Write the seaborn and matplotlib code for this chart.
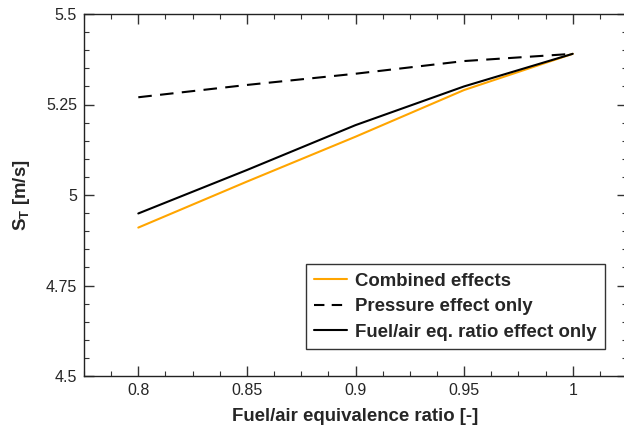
import matplotlib
matplotlib.use("Agg")
import matplotlib.pyplot as plt
import seaborn as sns
import pandas as pd
from matplotlib.ticker import MultipleLocator, FixedLocator, FixedFormatter
from matplotlib.lines import Line2D

phi = [0.8, 0.85, 0.9, 0.95, 1.0]
combined = [4.91, 5.037, 5.161, 5.29, 5.39]
pressure = [5.27, 5.304, 5.335, 5.37, 5.39]
fuelair = [4.949, 5.069, 5.193, 5.30, 5.39]
labels = ["Combined effects", "Pressure effect only", "Fuel/air eq. ratio effect only"]
xticks = [0.8, 0.85, 0.9, 0.95, 1.0]
xticklabels = ["0.8", "0.85", "0.9", "0.95", "1"]
yticks = [4.5, 4.75, 5.0, 5.25, 5.5]
yticklabels = ["4.5", "4.75", "5", "5.25", "5.5"]

sns.set_style("ticks")
plt.rcParams['font.family'] = ['Liberation Sans', 'DejaVu Sans']
plt.rcParams['mathtext.fontset'] = 'custom'
plt.rcParams['mathtext.bf'] = 'Liberation Sans:bold'
plt.rcParams['mathtext.rm'] = 'Liberation Sans'

df = pd.DataFrame({"phi": phi * 3,
                   "val": combined + pressure + fuelair,
                   "series": [labels[0]] * 5 + [labels[1]] * 5 + [labels[2]] * 5})

fig = plt.figure(figsize=(6.24, 4.29), dpi=100)
ax = fig.add_axes([84 / 624, 1 - 376 / 429, (627 - 84) / 624, (376 - 14) / 429])

palette = {labels[0]: "#FFA500", labels[1]: "black", labels[2]: "black"}
sns.lineplot(data=df, x="phi", y="val", hue="series", style="series",
             palette=palette, dashes={labels[0]: "", labels[1]: (6.5, 4), labels[2]: ""},
             linewidth=1.5, ax=ax, legend=False)

ax.set_xlim(0.775, 1.025)
ax.set_ylim(4.5, 5.5)
ax.xaxis.set_major_locator(FixedLocator(xticks))
ax.xaxis.set_major_formatter(FixedFormatter(xticklabels))
ax.xaxis.set_minor_locator(MultipleLocator(0.0125))
ax.yaxis.set_major_locator(FixedLocator(yticks))
ax.yaxis.set_major_formatter(FixedFormatter(yticklabels))
ax.yaxis.set_minor_locator(MultipleLocator(0.05))
ax.tick_params(which="both", direction="in", top=True, right=True, labelsize=11.5, color="#333333")
ax.tick_params(which="major", length=7, width=1, pad=5)
ax.tick_params(which="minor", length=3.5, width=0.8)
for s in ax.spines.values():
    s.set_linewidth(1.0)
    s.set_color("#222222")

ax.set_xlabel("Fuel/air equivalence ratio [-]", fontsize=13.4, fontweight="bold", labelpad=7)
ax.set_ylabel(r"$\mathbf{S_T}$ [m/s]", fontsize=13.4, fontweight="bold", labelpad=10)

handles = [Line2D([], [], color="#FFA500", lw=1.5),
           Line2D([], [], color="black", lw=1.5, dashes=(5, 3.5)),
           Line2D([], [], color="black", lw=1.5)]
leg = ax.legend(handles, labels, loc="lower right", bbox_to_anchor=(605 / 624, 1 - 349 / 429),
                bbox_transform=fig.transFigure, frameon=True, fancybox=False,
                prop={"weight": "bold", "size": 13.4}, handlelength=1.75,
                handletextpad=0.45, borderpad=0.45, labelspacing=0.45, borderaxespad=0)
leg.get_frame().set_edgecolor("black")
leg.get_frame().set_linewidth(1.0)

fig.savefig("out.png", dpi=100)
